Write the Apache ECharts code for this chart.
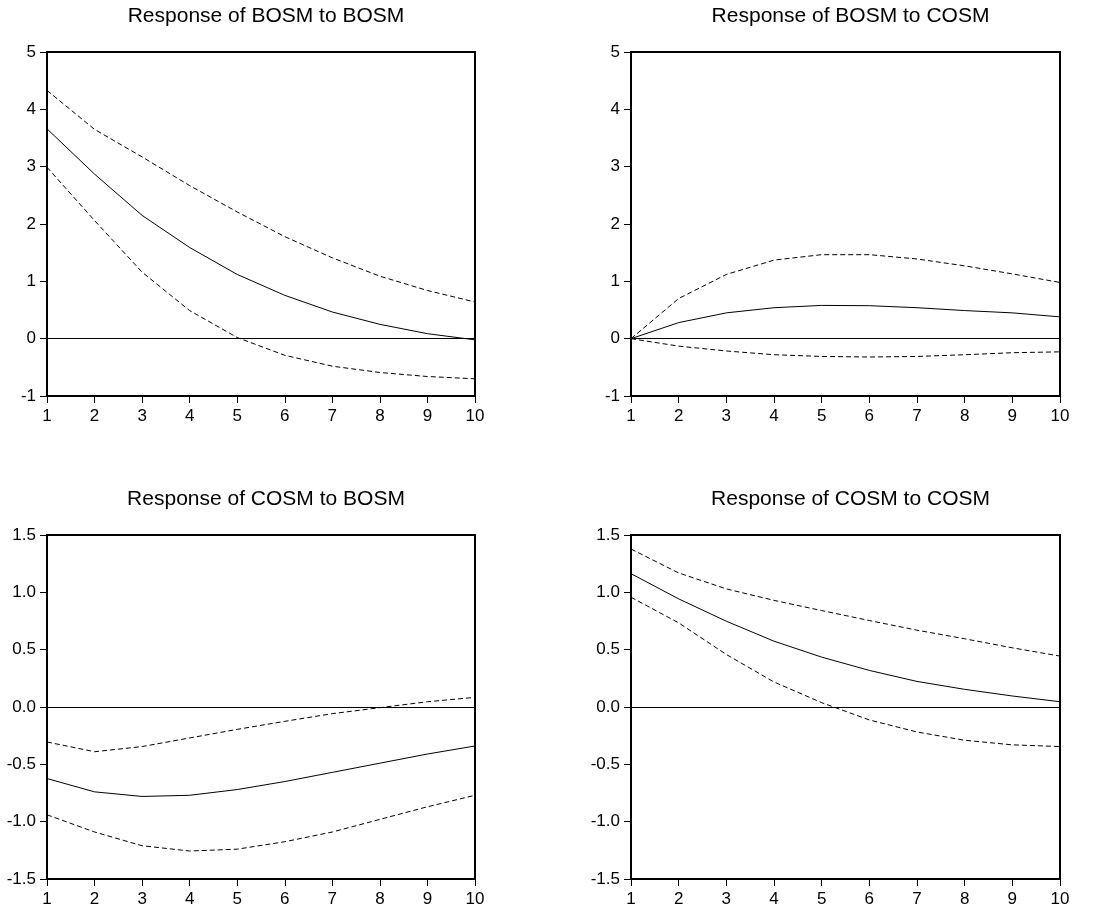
<!DOCTYPE html>
<html>
<head>
<meta charset="utf-8">
<script src="https://cdn.jsdelivr.net/npm/echarts@6/dist/echarts.min.js"></script>
<style>html,body{margin:0;padding:0;background:#fff}#c{width:1112px;height:913px}</style>
</head>
<body>
<div id="c"></div>
<script>
var periods = ['1','2','3','4','5','6','7','8','9','10'];
var titles = ['Response of BOSM to BOSM','Response of BOSM to COSM','Response of COSM to BOSM','Response of COSM to COSM'];

var bb_resp  = [3.66, 2.87, 2.15, 1.59, 1.12, 0.756, 0.465, 0.25, 0.087, -0.02];
var bb_upper = [4.33, 3.65, 3.17, 2.67, 2.21, 1.78, 1.41, 1.09, 0.84, 0.64];
var bb_lower = [2.99, 2.06, 1.16, 0.49, 0.02, -0.29, -0.48, -0.59, -0.66, -0.70];

var bc_resp  = [0, 0.28, 0.45, 0.54, 0.58, 0.575, 0.54, 0.49, 0.45, 0.38];
var bc_upper = [0, 0.70, 1.12, 1.37, 1.465, 1.465, 1.39, 1.27, 1.13, 0.98];
var bc_lower = [0, -0.13, -0.215, -0.28, -0.31, -0.32, -0.31, -0.28, -0.245, -0.23];

var cb_resp  = [-0.624, -0.74, -0.78, -0.77, -0.72, -0.65, -0.57, -0.49, -0.41, -0.34];
var cb_upper = [-0.305, -0.39, -0.345, -0.27, -0.195, -0.125, -0.058, -0.006, 0.046, 0.084];
var cb_lower = [-0.94, -1.09, -1.21, -1.256, -1.24, -1.175, -1.09, -0.98, -0.87, -0.77];

var cc_resp  = [1.163, 0.943, 0.748, 0.574, 0.435, 0.319, 0.223, 0.154, 0.096, 0.046];
var cc_upper = [1.378, 1.169, 1.03, 0.93, 0.841, 0.754, 0.67, 0.595, 0.516, 0.444];
var cc_lower = [0.957, 0.734, 0.458, 0.218, 0.038, -0.113, -0.218, -0.29, -0.33, -0.345];

var panels = [
  {resp: bb_resp, up: bb_upper, lo: bb_lower, min: -1, max: 5, interval: 1, dec: 0},
  {resp: bc_resp, up: bc_upper, lo: bc_lower, min: -1, max: 5, interval: 1, dec: 0},
  {resp: cb_resp, up: cb_upper, lo: cb_lower, min: -1.5, max: 1.5, interval: 0.5, dec: 1},
  {resp: cc_resp, up: cc_upper, lo: cc_lower, min: -1.5, max: 1.5, interval: 0.5, dec: 1}
];

var grids = [
  {left: 47, top: 52, width: 428, height: 344},
  {left: 631, top: 52, width: 429, height: 344},
  {left: 47, top: 535, width: 428, height: 344},
  {left: 631, top: 535, width: 429, height: 344}
];

var FONT = 'Liberation Sans, Arial, sans-serif';
var option = {
  animation: false,
  backgroundColor: '#fff',
  title: [], grid: [], xAxis: [], yAxis: [], series: []
};

panels.forEach(function (p, i) {
  var g = grids[i];
  option.grid.push({left: g.left, top: g.top, width: g.width, height: g.height,
    show: true, borderColor: '#000', borderWidth: 2, backgroundColor: 'transparent'});
  option.title.push({
    text: titles[i], left: g.left + g.width / 2, top: g.top - 51, textAlign: 'center',
    textStyle: {fontFamily: FONT, fontSize: 21, fontWeight: 'normal', color: '#000'}
  });
  option.xAxis.push({
    type: 'category', gridIndex: i, data: periods, boundaryGap: false,
    axisLine: {show: true, onZero: false, lineStyle: {color: '#000', width: 2}},
    axisTick: {show: true, inside: false, length: 7, alignWithLabel: true, lineStyle: {color: '#000', width: 1}},
    axisLabel: {fontFamily: FONT, fontSize: 17, color: '#000', margin: 12, interval: 0},
    splitLine: {show: false}
  });
  option.yAxis.push({
    type: 'value', gridIndex: i, min: p.min, max: p.max, interval: p.interval,
    axisLine: {show: true, onZero: false, lineStyle: {color: '#000', width: 2}},
    axisTick: {show: true, inside: false, length: 7, lineStyle: {color: '#000', width: 1}},
    axisLabel: {fontFamily: FONT, fontSize: 17, color: '#000', margin: 11,
      formatter: (function (d) { return function (v) { return v.toFixed(d); }; })(p.dec)},
    splitLine: {show: false}
  });
  option.series.push({
    type: 'line', xAxisIndex: i, yAxisIndex: i, data: p.resp, symbol: 'none',
    lineStyle: {color: '#000', width: 1}, silent: true,
    markLine: {silent: true, symbol: 'none', label: {show: false},
      lineStyle: {color: '#000', width: 1, type: 'solid'}, data: [{yAxis: 0}]}
  });
  option.series.push({
    type: 'line', xAxisIndex: i, yAxisIndex: i, data: p.up, symbol: 'none',
    lineStyle: {color: '#000', width: 1, type: [5, 3]}, silent: true
  });
  option.series.push({
    type: 'line', xAxisIndex: i, yAxisIndex: i, data: p.lo, symbol: 'none',
    lineStyle: {color: '#000', width: 1, type: [5, 3]}, silent: true
  });
});

var chart = echarts.init(document.getElementById('c'), null, {renderer: 'canvas'});
chart.setOption(option);
</script>
</body>
</html>
